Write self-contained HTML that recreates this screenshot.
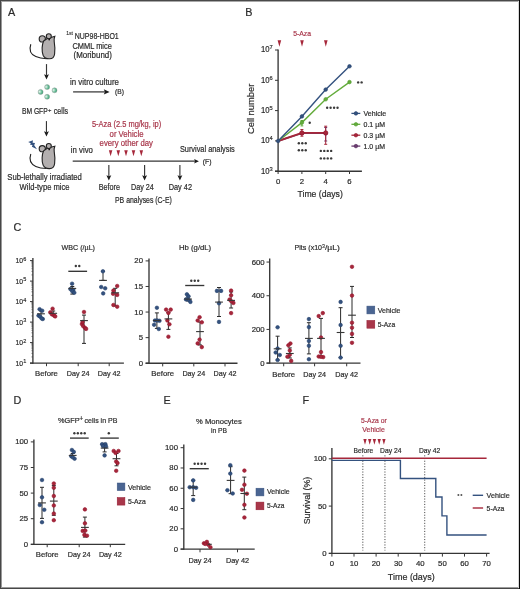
<!DOCTYPE html>
<html><head><meta charset="utf-8"><style>
html,body{margin:0;padding:0;background:#fff;overflow:hidden;width:520px;height:589px;}
svg{display:block;}
#w{width:520px;height:589px;overflow:hidden;will-change:transform;}
text{font-family:"Liberation Sans",sans-serif;-webkit-font-smoothing:antialiased;}
</style></head><body><div id="w">
<svg width="520" height="589" viewBox="0 0 520 589" font-family="Liberation Sans, sans-serif">
<rect x="0" y="0" width="520" height="589" fill="#fff"/>
<g>
<text x="8.0" y="16.2" font-size="10.8" text-anchor="start" fill="#2b2b2b" stroke="#2b2b2b" stroke-width="0.2">A</text>
<g transform="translate(0,0)" stroke="#222" stroke-width="1.12" fill="#b3afaf"><path d="M30.8,44.2 C29.2,49 30,54 35.8,56.6 C39,58 43,58.6 46.5,58.7" fill="none"/><circle cx="42.3" cy="38.9" r="3.1"/><path d="M43.6,41 C42,44.5 41.4,51 43.2,55.5 C44.5,58.3 47.3,58.9 49.6,58.8 C52.3,58.7 54.2,57.2 54.6,54 C55.1,50 54.8,45 54.2,41.5 C54,40 54.2,38 54.8,36.4 L51.5,37.2 C48.5,37.8 45.5,39 43.6,41 Z"/><circle cx="48.8" cy="36.2" r="2.5"/><circle cx="49.2" cy="39.6" r="0.85" fill="#111" stroke="none"/></g>
<text x="66.2" y="34.6" font-size="4.6" text-anchor="start" fill="#2b2b2b" stroke="#2b2b2b" stroke-width="0.1" textLength="6.8" lengthAdjust="spacingAndGlyphs">1st</text>
<text x="96.75" y="38.7" font-size="8.53" text-anchor="middle" fill="#2b2b2b" stroke="#2b2b2b" stroke-width="0.2" textLength="44.0" lengthAdjust="spacingAndGlyphs">NUP98-HBO1</text>
<text x="92.2" y="48.7" font-size="8.53" text-anchor="middle" fill="#2b2b2b" stroke="#2b2b2b" stroke-width="0.2" textLength="39.4" lengthAdjust="spacingAndGlyphs">CMML mice</text>
<text x="92.7" y="57.8" font-size="8.53" text-anchor="middle" fill="#2b2b2b" stroke="#2b2b2b" stroke-width="0.2" textLength="38.4" lengthAdjust="spacingAndGlyphs">(Moribund)</text>
<line x1="46.5" y1="64.1" x2="46.5" y2="75.3" stroke="#363636" stroke-width="1.15"/>
<path d="M44.05,74.20 L46.50,75.30 L48.95,74.20 L46.50,79.40 Z" fill="#1a1a1a"/>
<defs><radialGradient id="cg" cx="0.3" cy="0.45" r="0.75"><stop offset="0" stop-color="#e8f5ef"/><stop offset="0.55" stop-color="#6cc09a"/><stop offset="1" stop-color="#1f9463"/></radialGradient></defs>
<circle cx="40.6" cy="91.9" r="2.5" fill="url(#cg)" stroke="#9a9a9a" stroke-width="0.45"/>
<circle cx="47.1" cy="87.1" r="2.5" fill="url(#cg)" stroke="#9a9a9a" stroke-width="0.45"/>
<circle cx="54.5" cy="90.3" r="2.5" fill="url(#cg)" stroke="#9a9a9a" stroke-width="0.45"/>
<circle cx="47.1" cy="96.8" r="2.5" fill="url(#cg)" stroke="#9a9a9a" stroke-width="0.45"/>
<text x="94.5" y="84.75" font-size="8.53" text-anchor="middle" fill="#2b2b2b" stroke="#2b2b2b" stroke-width="0.2" textLength="49" lengthAdjust="spacingAndGlyphs">in vitro culture</text>
<line x1="73.1" y1="91.9" x2="104.89999999999999" y2="91.9" stroke="#363636" stroke-width="1.25"/>
<path d="M103.80,89.30 L104.90,91.90 L103.80,94.50 L109.60,91.90 Z" fill="#1a1a1a"/>
<text x="119.45" y="94.4" font-size="7.6" text-anchor="middle" fill="#2b2b2b" stroke="#2b2b2b" stroke-width="0.2" textLength="8.9" lengthAdjust="spacingAndGlyphs">(B)</text>
<text x="34.83" y="114.3" font-size="8.53" text-anchor="middle" fill="#2b2b2b" stroke="#2b2b2b" stroke-width="0.2" textLength="25.85" lengthAdjust="spacingAndGlyphs">BM GFP</text>
<text x="47.9" y="111.9" font-size="5.9" text-anchor="start" fill="#2b2b2b" stroke="#2b2b2b" stroke-width="0.15">+</text>
<text x="60.92" y="114.3" font-size="8.53" text-anchor="middle" fill="#2b2b2b" stroke="#2b2b2b" stroke-width="0.2" textLength="14.35" lengthAdjust="spacingAndGlyphs">cells</text>
<line x1="46.45" y1="121.1" x2="46.45" y2="132.3" stroke="#363636" stroke-width="1.15"/>
<path d="M44.00,131.20 L46.45,132.30 L48.90,131.20 L46.45,136.40 Z" fill="#1a1a1a"/>
<path d="M28.2,141.9 L33.0,140.3 L32.6,142.7 L35.0,143.0 L34.2,145.2 L37.0,149.2 L31.9,146.8 L32.5,145.1 L30.0,144.8 L30.8,143.3 Z" fill="#34527f"/>
<g transform="translate(0,109.8)" stroke="#222" stroke-width="1.12" fill="#b3afaf"><path d="M30.8,44.2 C29.2,49 30,54 35.8,56.6 C39,58 43,58.6 46.5,58.7" fill="none"/><circle cx="42.3" cy="38.9" r="3.1"/><path d="M43.6,41 C42,44.5 41.4,51 43.2,55.5 C44.5,58.3 47.3,58.9 49.6,58.8 C52.3,58.7 54.2,57.2 54.6,54 C55.1,50 54.8,45 54.2,41.5 C54,40 54.2,38 54.8,36.4 L51.5,37.2 C48.5,37.8 45.5,39 43.6,41 Z"/><circle cx="48.8" cy="36.2" r="2.5"/><circle cx="49.2" cy="39.6" r="0.85" fill="#111" stroke="none"/></g>
<text x="44.6" y="180" font-size="8.53" text-anchor="middle" fill="#2b2b2b" stroke="#2b2b2b" stroke-width="0.2" textLength="74.6" lengthAdjust="spacingAndGlyphs">Sub-lethally irradiated</text>
<text x="44.6" y="189.5" font-size="8.53" text-anchor="middle" fill="#2b2b2b" stroke="#2b2b2b" stroke-width="0.2" textLength="50.0" lengthAdjust="spacingAndGlyphs">Wild-type mice</text>
<text x="81.85" y="153.1" font-size="8.53" text-anchor="middle" fill="#2b2b2b" stroke="#2b2b2b" stroke-width="0.2" textLength="22.1" lengthAdjust="spacingAndGlyphs">in vivo</text>
<text x="126.55" y="126.9" font-size="8.53" text-anchor="middle" fill="#a8364a" stroke="#a8364a" stroke-width="0.2" textLength="69.3" lengthAdjust="spacingAndGlyphs">5-Aza (2.5 mg/kg, ip)</text>
<text x="126.55" y="136.7" font-size="8.53" text-anchor="middle" fill="#a8364a" stroke="#a8364a" stroke-width="0.2" textLength="33.9" lengthAdjust="spacingAndGlyphs">or Vehicle</text>
<text x="126.3" y="146.3" font-size="8.53" text-anchor="middle" fill="#a8364a" stroke="#a8364a" stroke-width="0.2" textLength="53.4" lengthAdjust="spacingAndGlyphs">every other day</text>
<path d="M108.85,150.2 L112.35,150.2 L110.6,156.29999999999998 Z" fill="#a6273a"/>
<path d="M116.55,150.2 L120.05,150.2 L118.3,156.29999999999998 Z" fill="#a6273a"/>
<path d="M124.25,150.2 L127.75,150.2 L126,156.29999999999998 Z" fill="#a6273a"/>
<path d="M131.75,150.2 L135.25,150.2 L133.5,156.29999999999998 Z" fill="#a6273a"/>
<path d="M139.55,150.2 L143.05,150.2 L141.3,156.29999999999998 Z" fill="#a6273a"/>
<line x1="72.7" y1="161.2" x2="195.1" y2="161.2" stroke="#363636" stroke-width="1.3"/>
<path d="M194.10,158.90 L195.10,161.20 L194.10,163.50 L198.90,161.20 Z" fill="#1a1a1a"/>
<text x="207.35" y="151.8" font-size="8.53" text-anchor="middle" fill="#2b2b2b" stroke="#2b2b2b" stroke-width="0.2" textLength="54.9" lengthAdjust="spacingAndGlyphs">Survival analysis</text>
<text x="207.15" y="163.5" font-size="7.6" text-anchor="middle" fill="#2b2b2b" stroke="#2b2b2b" stroke-width="0.2" textLength="8.7" lengthAdjust="spacingAndGlyphs">(F)</text>
<line x1="108.85" y1="165.0" x2="108.85" y2="176.3" stroke="#363636" stroke-width="1.15"/>
<path d="M106.40,175.20 L108.85,176.30 L111.30,175.20 L108.85,180.40 Z" fill="#1a1a1a"/>
<line x1="144.6" y1="165.0" x2="144.6" y2="176.3" stroke="#363636" stroke-width="1.15"/>
<path d="M142.15,175.20 L144.60,176.30 L147.05,175.20 L144.60,180.40 Z" fill="#1a1a1a"/>
<line x1="179.9" y1="165.0" x2="179.9" y2="176.3" stroke="#363636" stroke-width="1.15"/>
<path d="M177.45,175.20 L179.90,176.30 L182.35,175.20 L179.90,180.40 Z" fill="#1a1a1a"/>
<text x="109.38" y="189.75" font-size="8.53" text-anchor="middle" fill="#2b2b2b" stroke="#2b2b2b" stroke-width="0.2" textLength="21.25" lengthAdjust="spacingAndGlyphs">Before</text>
<text x="142.38" y="189.75" font-size="8.53" text-anchor="middle" fill="#2b2b2b" stroke="#2b2b2b" stroke-width="0.2" textLength="22.75" lengthAdjust="spacingAndGlyphs">Day 24</text>
<text x="180.35" y="189.75" font-size="8.53" text-anchor="middle" fill="#2b2b2b" stroke="#2b2b2b" stroke-width="0.2" textLength="23.3" lengthAdjust="spacingAndGlyphs">Day 42</text>
<text x="143.4" y="203.1" font-size="8.53" text-anchor="middle" fill="#2b2b2b" stroke="#2b2b2b" stroke-width="0.2" textLength="56.8" lengthAdjust="spacingAndGlyphs">PB analyses (C-E)</text>
<text x="245.2" y="16.25" font-size="10.8" text-anchor="start" fill="#2b2b2b" stroke="#2b2b2b" stroke-width="0.2">B</text>
<text x="302.1" y="35.5" font-size="7.56" text-anchor="middle" fill="#a8364a" stroke="#a8364a" stroke-width="0.2" textLength="17.8" lengthAdjust="spacingAndGlyphs">5-Aza</text>
<path d="M277.59999999999997,40.3 L281.2,40.3 L279.4,46.699999999999996 Z" fill="#a6273a"/>
<path d="M300.2,40.3 L303.8,40.3 L302,46.699999999999996 Z" fill="#a6273a"/>
<path d="M324.0,40.3 L327.6,40.3 L325.8,46.699999999999996 Z" fill="#a6273a"/>
<line x1="278.1" y1="49.4" x2="278.1" y2="171.6" stroke="#363636" stroke-width="1.35"/>
<line x1="275" y1="171.2" x2="361.9" y2="171.2" stroke="#363636" stroke-width="1.35"/>
<line x1="275" y1="171.2" x2="278.1" y2="171.2" stroke="#363636" stroke-width="1.0"/>
<text x="261" y="173.5" font-size="8.21" text-anchor="start" fill="#2b2b2b" stroke="#2b2b2b" stroke-width="0.2" textLength="8.6" lengthAdjust="spacingAndGlyphs">10</text>
<text x="269.6" y="170.6" font-size="5.8" text-anchor="start" fill="#2b2b2b" stroke="#2b2b2b" stroke-width="0.15" textLength="3.2" lengthAdjust="spacingAndGlyphs">3</text>
<line x1="275" y1="140.89999999999998" x2="278.1" y2="140.89999999999998" stroke="#363636" stroke-width="1.0"/>
<text x="261" y="143.2" font-size="8.21" text-anchor="start" fill="#2b2b2b" stroke="#2b2b2b" stroke-width="0.2" textLength="8.6" lengthAdjust="spacingAndGlyphs">10</text>
<text x="269.6" y="140.29999999999998" font-size="5.8" text-anchor="start" fill="#2b2b2b" stroke="#2b2b2b" stroke-width="0.15" textLength="3.2" lengthAdjust="spacingAndGlyphs">4</text>
<line x1="275" y1="110.6" x2="278.1" y2="110.6" stroke="#363636" stroke-width="1.0"/>
<text x="261" y="112.89999999999999" font-size="8.21" text-anchor="start" fill="#2b2b2b" stroke="#2b2b2b" stroke-width="0.2" textLength="8.6" lengthAdjust="spacingAndGlyphs">10</text>
<text x="269.6" y="110.0" font-size="5.8" text-anchor="start" fill="#2b2b2b" stroke="#2b2b2b" stroke-width="0.15" textLength="3.2" lengthAdjust="spacingAndGlyphs">5</text>
<line x1="275" y1="80.29999999999998" x2="278.1" y2="80.29999999999998" stroke="#363636" stroke-width="1.0"/>
<text x="261" y="82.59999999999998" font-size="8.21" text-anchor="start" fill="#2b2b2b" stroke="#2b2b2b" stroke-width="0.2" textLength="8.6" lengthAdjust="spacingAndGlyphs">10</text>
<text x="269.6" y="79.69999999999999" font-size="5.8" text-anchor="start" fill="#2b2b2b" stroke="#2b2b2b" stroke-width="0.15" textLength="3.2" lengthAdjust="spacingAndGlyphs">6</text>
<line x1="275" y1="49.999999999999986" x2="278.1" y2="49.999999999999986" stroke="#363636" stroke-width="1.0"/>
<text x="261" y="52.29999999999998" font-size="8.21" text-anchor="start" fill="#2b2b2b" stroke="#2b2b2b" stroke-width="0.2" textLength="8.6" lengthAdjust="spacingAndGlyphs">10</text>
<text x="269.6" y="49.399999999999984" font-size="5.8" text-anchor="start" fill="#2b2b2b" stroke="#2b2b2b" stroke-width="0.15" textLength="3.2" lengthAdjust="spacingAndGlyphs">7</text>
<line x1="278.1" y1="171" x2="278.1" y2="174" stroke="#363636" stroke-width="1.0"/>
<text x="278.1" y="184.3" font-size="7.78" text-anchor="middle" fill="#2b2b2b" stroke="#2b2b2b" stroke-width="0.2">0</text>
<line x1="301.90000000000003" y1="171" x2="301.90000000000003" y2="174" stroke="#363636" stroke-width="1.0"/>
<text x="301.90000000000003" y="184.3" font-size="7.78" text-anchor="middle" fill="#2b2b2b" stroke="#2b2b2b" stroke-width="0.2">2</text>
<line x1="325.70000000000005" y1="171" x2="325.70000000000005" y2="174" stroke="#363636" stroke-width="1.0"/>
<text x="325.70000000000005" y="184.3" font-size="7.78" text-anchor="middle" fill="#2b2b2b" stroke="#2b2b2b" stroke-width="0.2">4</text>
<line x1="349.5" y1="171" x2="349.5" y2="174" stroke="#363636" stroke-width="1.0"/>
<text x="349.5" y="184.3" font-size="7.78" text-anchor="middle" fill="#2b2b2b" stroke="#2b2b2b" stroke-width="0.2">6</text>
<text x="320.15" y="196.8" font-size="9.29" text-anchor="middle" fill="#2b2b2b" stroke="#2b2b2b" stroke-width="0.2" textLength="45.3" lengthAdjust="spacingAndGlyphs">Time (days)</text>
<text transform="translate(254.2,108.9) rotate(-90)" x="0" y="0" font-size="9.5" text-anchor="middle" fill="#2b2b2b" stroke="#2b2b2b" stroke-width="0.2" textLength="50.3" lengthAdjust="spacingAndGlyphs">Cell number</text>
<path d="M278.1,141 L301.90000000000003,133.3 L325.70000000000005,133.3" fill="none" stroke="#6b3d70" stroke-width="1.4"/>
<circle cx="301.90000000000003" cy="133.3" r="1.80" fill="#6b3d70" stroke="#552a5c" stroke-width="0.6"/>
<circle cx="325.70000000000005" cy="133.3" r="1.80" fill="#6b3d70" stroke="#552a5c" stroke-width="0.6"/>
<line x1="325.70000000000005" y1="127.5" x2="325.70000000000005" y2="141" stroke="#6b3d70" stroke-width="1.0"/>
<line x1="324.20000000000005" y1="127.5" x2="327.20000000000005" y2="127.5" stroke="#6b3d70" stroke-width="1.0"/>
<line x1="324.20000000000005" y1="141" x2="327.20000000000005" y2="141" stroke="#6b3d70" stroke-width="1.0"/>
<line x1="301.90000000000003" y1="129.5" x2="301.90000000000003" y2="136.2" stroke="#a6273a" stroke-width="1.0"/>
<line x1="300.40000000000003" y1="129.5" x2="303.40000000000003" y2="129.5" stroke="#a6273a" stroke-width="1.0"/>
<line x1="300.40000000000003" y1="136.2" x2="303.40000000000003" y2="136.2" stroke="#a6273a" stroke-width="1.0"/>
<line x1="325.70000000000005" y1="126.2" x2="325.70000000000005" y2="144.3" stroke="#a6273a" stroke-width="1.0"/>
<line x1="324.20000000000005" y1="126.2" x2="327.20000000000005" y2="126.2" stroke="#a6273a" stroke-width="1.0"/>
<line x1="324.20000000000005" y1="144.3" x2="327.20000000000005" y2="144.3" stroke="#a6273a" stroke-width="1.0"/>
<line x1="301.90000000000003" y1="120.5" x2="301.90000000000003" y2="125.9" stroke="#64ac3c" stroke-width="1.0"/>
<line x1="300.50000000000006" y1="120.5" x2="303.3" y2="120.5" stroke="#64ac3c" stroke-width="1.0"/>
<line x1="300.50000000000006" y1="125.9" x2="303.3" y2="125.9" stroke="#64ac3c" stroke-width="1.0"/>
<path d="M278.1,141 L301.90000000000003,132.9 L325.70000000000005,132.9" fill="none" stroke="#a6273a" stroke-width="1.9"/>
<circle cx="301.90000000000003" cy="132.9" r="2.20" fill="#a6273a" stroke="#94112a" stroke-width="0.6"/>
<circle cx="325.70000000000005" cy="132.9" r="2.20" fill="#a6273a" stroke="#94112a" stroke-width="0.6"/>
<path d="M278.1,141 L301.90000000000003,122.6 L325.70000000000005,99.3 L349.5,82.1" fill="none" stroke="#64ac3c" stroke-width="1.4"/>
<circle cx="301.90000000000003" cy="122.6" r="1.80" fill="#64ac3c" stroke="#4f9a2c" stroke-width="0.6"/>
<circle cx="325.70000000000005" cy="99.3" r="1.80" fill="#64ac3c" stroke="#4f9a2c" stroke-width="0.6"/>
<circle cx="349.5" cy="82.1" r="1.80" fill="#64ac3c" stroke="#4f9a2c" stroke-width="0.6"/>
<path d="M278.1,141 L301.90000000000003,116.4 L325.70000000000005,89.6 L349.5,66.3" fill="none" stroke="#34527f" stroke-width="1.4"/>
<circle cx="278.1" cy="141" r="1.80" fill="#34527f" stroke="#24406c" stroke-width="0.6"/>
<circle cx="301.90000000000003" cy="116.4" r="1.80" fill="#34527f" stroke="#24406c" stroke-width="0.6"/>
<circle cx="325.70000000000005" cy="89.6" r="1.80" fill="#34527f" stroke="#24406c" stroke-width="0.6"/>
<circle cx="349.5" cy="66.3" r="1.80" fill="#34527f" stroke="#24406c" stroke-width="0.6"/>
<circle cx="309.70" cy="122.8" r="1.2" fill="#3a3a3a"/>
<circle cx="327.18" cy="107.7" r="1.2" fill="#3a3a3a"/>
<circle cx="330.62" cy="107.7" r="1.2" fill="#3a3a3a"/>
<circle cx="334.08" cy="107.7" r="1.2" fill="#3a3a3a"/>
<circle cx="337.53" cy="107.7" r="1.2" fill="#3a3a3a"/>
<circle cx="298.85" cy="143.2" r="1.2" fill="#3a3a3a"/>
<circle cx="302.30" cy="143.2" r="1.2" fill="#3a3a3a"/>
<circle cx="305.75" cy="143.2" r="1.2" fill="#3a3a3a"/>
<circle cx="298.85" cy="150.3" r="1.2" fill="#3a3a3a"/>
<circle cx="302.30" cy="150.3" r="1.2" fill="#3a3a3a"/>
<circle cx="305.75" cy="150.3" r="1.2" fill="#3a3a3a"/>
<circle cx="320.82" cy="150.9" r="1.2" fill="#3a3a3a"/>
<circle cx="324.27" cy="150.9" r="1.2" fill="#3a3a3a"/>
<circle cx="327.73" cy="150.9" r="1.2" fill="#3a3a3a"/>
<circle cx="331.18" cy="150.9" r="1.2" fill="#3a3a3a"/>
<circle cx="320.82" cy="158.4" r="1.2" fill="#3a3a3a"/>
<circle cx="324.27" cy="158.4" r="1.2" fill="#3a3a3a"/>
<circle cx="327.73" cy="158.4" r="1.2" fill="#3a3a3a"/>
<circle cx="331.18" cy="158.4" r="1.2" fill="#3a3a3a"/>
<circle cx="358.17" cy="82.4" r="1.2" fill="#3a3a3a"/>
<circle cx="361.62" cy="82.4" r="1.2" fill="#3a3a3a"/>
<line x1="351.4" y1="113.4" x2="360.3" y2="113.4" stroke="#34527f" stroke-width="1.3"/>
<circle cx="355.9" cy="113.4" r="1.80" fill="#34527f" stroke="#24406c" stroke-width="0.6"/>
<text x="374.9" y="116.0" font-size="7.78" text-anchor="middle" fill="#2b2b2b" stroke="#2b2b2b" stroke-width="0.2" textLength="22.8" lengthAdjust="spacingAndGlyphs">Vehicle</text>
<line x1="351.4" y1="124.30000000000001" x2="360.3" y2="124.30000000000001" stroke="#64ac3c" stroke-width="1.3"/>
<circle cx="355.9" cy="124.30000000000001" r="1.80" fill="#64ac3c" stroke="#4f9a2c" stroke-width="0.6"/>
<text x="374.25" y="126.9" font-size="7.78" text-anchor="middle" fill="#2b2b2b" stroke="#2b2b2b" stroke-width="0.2" textLength="21.5" lengthAdjust="spacingAndGlyphs">0.1 µM</text>
<line x1="351.4" y1="135.20000000000002" x2="360.3" y2="135.20000000000002" stroke="#a6273a" stroke-width="1.3"/>
<circle cx="355.9" cy="135.20000000000002" r="1.80" fill="#a6273a" stroke="#94112a" stroke-width="0.6"/>
<text x="374.25" y="137.8" font-size="7.78" text-anchor="middle" fill="#2b2b2b" stroke="#2b2b2b" stroke-width="0.2" textLength="21.5" lengthAdjust="spacingAndGlyphs">0.3 µM</text>
<line x1="351.4" y1="146.10000000000002" x2="360.3" y2="146.10000000000002" stroke="#6b3d70" stroke-width="1.3"/>
<circle cx="355.9" cy="146.10000000000002" r="1.80" fill="#6b3d70" stroke="#552a5c" stroke-width="0.6"/>
<text x="374.25" y="148.70000000000002" font-size="7.78" text-anchor="middle" fill="#2b2b2b" stroke="#2b2b2b" stroke-width="0.2" textLength="21.5" lengthAdjust="spacingAndGlyphs">1.0 µM</text>
<text x="13.6" y="230.9" font-size="10.8" text-anchor="start" fill="#2b2b2b" stroke="#2b2b2b" stroke-width="0.2">C</text>
<line x1="32.9" y1="258.1" x2="32.9" y2="363.7" stroke="#363636" stroke-width="1.35"/>
<line x1="30" y1="363.1" x2="123.9" y2="363.1" stroke="#363636" stroke-width="1.35"/>
<line x1="30" y1="363.1" x2="32.9" y2="363.1" stroke="#363636" stroke-width="1.0"/>
<text x="15.6" y="365.8" font-size="7.78" text-anchor="start" fill="#2b2b2b" stroke="#2b2b2b" stroke-width="0.2" textLength="7.5" lengthAdjust="spacingAndGlyphs">10</text>
<text x="23.2" y="363.40000000000003" font-size="5.6" text-anchor="start" fill="#2b2b2b" stroke="#2b2b2b" stroke-width="0.15" textLength="3.1" lengthAdjust="spacingAndGlyphs">1</text>
<line x1="31.4" y1="356.9288850888884" x2="32.9" y2="356.9288850888884" stroke="#363636" stroke-width="0.6"/>
<line x1="31.4" y1="353.3190142782469" x2="32.9" y2="353.3190142782469" stroke="#363636" stroke-width="0.6"/>
<line x1="31.4" y1="350.7577701777768" x2="32.9" y2="350.7577701777768" stroke="#363636" stroke-width="0.6"/>
<line x1="31.4" y1="348.7711149111116" x2="32.9" y2="348.7711149111116" stroke="#363636" stroke-width="0.6"/>
<line x1="31.4" y1="347.1478993671353" x2="32.9" y2="347.1478993671353" stroke="#363636" stroke-width="0.6"/>
<line x1="31.4" y1="345.77549017970773" x2="32.9" y2="345.77549017970773" stroke="#363636" stroke-width="0.6"/>
<line x1="31.4" y1="344.58665526666516" x2="32.9" y2="344.58665526666516" stroke="#363636" stroke-width="0.6"/>
<line x1="31.4" y1="343.5380285564939" x2="32.9" y2="343.5380285564939" stroke="#363636" stroke-width="0.6"/>
<line x1="30" y1="342.6" x2="32.9" y2="342.6" stroke="#363636" stroke-width="1.0"/>
<text x="15.6" y="345.3" font-size="7.78" text-anchor="start" fill="#2b2b2b" stroke="#2b2b2b" stroke-width="0.2" textLength="7.5" lengthAdjust="spacingAndGlyphs">10</text>
<text x="23.2" y="342.90000000000003" font-size="5.6" text-anchor="start" fill="#2b2b2b" stroke="#2b2b2b" stroke-width="0.15" textLength="3.1" lengthAdjust="spacingAndGlyphs">2</text>
<line x1="31.4" y1="336.4288850888884" x2="32.9" y2="336.4288850888884" stroke="#363636" stroke-width="0.6"/>
<line x1="31.4" y1="332.8190142782469" x2="32.9" y2="332.8190142782469" stroke="#363636" stroke-width="0.6"/>
<line x1="31.4" y1="330.2577701777768" x2="32.9" y2="330.2577701777768" stroke="#363636" stroke-width="0.6"/>
<line x1="31.4" y1="328.2711149111116" x2="32.9" y2="328.2711149111116" stroke="#363636" stroke-width="0.6"/>
<line x1="31.4" y1="326.6478993671353" x2="32.9" y2="326.6478993671353" stroke="#363636" stroke-width="0.6"/>
<line x1="31.4" y1="325.27549017970773" x2="32.9" y2="325.27549017970773" stroke="#363636" stroke-width="0.6"/>
<line x1="31.4" y1="324.08665526666516" x2="32.9" y2="324.08665526666516" stroke="#363636" stroke-width="0.6"/>
<line x1="31.4" y1="323.0380285564939" x2="32.9" y2="323.0380285564939" stroke="#363636" stroke-width="0.6"/>
<line x1="30" y1="322.1" x2="32.9" y2="322.1" stroke="#363636" stroke-width="1.0"/>
<text x="15.6" y="324.8" font-size="7.78" text-anchor="start" fill="#2b2b2b" stroke="#2b2b2b" stroke-width="0.2" textLength="7.5" lengthAdjust="spacingAndGlyphs">10</text>
<text x="23.2" y="322.40000000000003" font-size="5.6" text-anchor="start" fill="#2b2b2b" stroke="#2b2b2b" stroke-width="0.15" textLength="3.1" lengthAdjust="spacingAndGlyphs">3</text>
<line x1="31.4" y1="315.9288850888884" x2="32.9" y2="315.9288850888884" stroke="#363636" stroke-width="0.6"/>
<line x1="31.4" y1="312.3190142782469" x2="32.9" y2="312.3190142782469" stroke="#363636" stroke-width="0.6"/>
<line x1="31.4" y1="309.7577701777768" x2="32.9" y2="309.7577701777768" stroke="#363636" stroke-width="0.6"/>
<line x1="31.4" y1="307.7711149111116" x2="32.9" y2="307.7711149111116" stroke="#363636" stroke-width="0.6"/>
<line x1="31.4" y1="306.1478993671353" x2="32.9" y2="306.1478993671353" stroke="#363636" stroke-width="0.6"/>
<line x1="31.4" y1="304.77549017970773" x2="32.9" y2="304.77549017970773" stroke="#363636" stroke-width="0.6"/>
<line x1="31.4" y1="303.58665526666516" x2="32.9" y2="303.58665526666516" stroke="#363636" stroke-width="0.6"/>
<line x1="31.4" y1="302.5380285564939" x2="32.9" y2="302.5380285564939" stroke="#363636" stroke-width="0.6"/>
<line x1="30" y1="301.6" x2="32.9" y2="301.6" stroke="#363636" stroke-width="1.0"/>
<text x="15.6" y="304.3" font-size="7.78" text-anchor="start" fill="#2b2b2b" stroke="#2b2b2b" stroke-width="0.2" textLength="7.5" lengthAdjust="spacingAndGlyphs">10</text>
<text x="23.2" y="301.90000000000003" font-size="5.6" text-anchor="start" fill="#2b2b2b" stroke="#2b2b2b" stroke-width="0.15" textLength="3.1" lengthAdjust="spacingAndGlyphs">4</text>
<line x1="31.4" y1="295.4288850888884" x2="32.9" y2="295.4288850888884" stroke="#363636" stroke-width="0.6"/>
<line x1="31.4" y1="291.8190142782469" x2="32.9" y2="291.8190142782469" stroke="#363636" stroke-width="0.6"/>
<line x1="31.4" y1="289.2577701777768" x2="32.9" y2="289.2577701777768" stroke="#363636" stroke-width="0.6"/>
<line x1="31.4" y1="287.2711149111116" x2="32.9" y2="287.2711149111116" stroke="#363636" stroke-width="0.6"/>
<line x1="31.4" y1="285.6478993671353" x2="32.9" y2="285.6478993671353" stroke="#363636" stroke-width="0.6"/>
<line x1="31.4" y1="284.27549017970773" x2="32.9" y2="284.27549017970773" stroke="#363636" stroke-width="0.6"/>
<line x1="31.4" y1="283.08665526666516" x2="32.9" y2="283.08665526666516" stroke="#363636" stroke-width="0.6"/>
<line x1="31.4" y1="282.0380285564939" x2="32.9" y2="282.0380285564939" stroke="#363636" stroke-width="0.6"/>
<line x1="30" y1="281.1" x2="32.9" y2="281.1" stroke="#363636" stroke-width="1.0"/>
<text x="15.6" y="283.8" font-size="7.78" text-anchor="start" fill="#2b2b2b" stroke="#2b2b2b" stroke-width="0.2" textLength="7.5" lengthAdjust="spacingAndGlyphs">10</text>
<text x="23.2" y="281.40000000000003" font-size="5.6" text-anchor="start" fill="#2b2b2b" stroke="#2b2b2b" stroke-width="0.15" textLength="3.1" lengthAdjust="spacingAndGlyphs">5</text>
<line x1="31.4" y1="274.9288850888884" x2="32.9" y2="274.9288850888884" stroke="#363636" stroke-width="0.6"/>
<line x1="31.4" y1="271.3190142782469" x2="32.9" y2="271.3190142782469" stroke="#363636" stroke-width="0.6"/>
<line x1="31.4" y1="268.7577701777768" x2="32.9" y2="268.7577701777768" stroke="#363636" stroke-width="0.6"/>
<line x1="31.4" y1="266.7711149111116" x2="32.9" y2="266.7711149111116" stroke="#363636" stroke-width="0.6"/>
<line x1="31.4" y1="265.1478993671353" x2="32.9" y2="265.1478993671353" stroke="#363636" stroke-width="0.6"/>
<line x1="31.4" y1="263.77549017970773" x2="32.9" y2="263.77549017970773" stroke="#363636" stroke-width="0.6"/>
<line x1="31.4" y1="262.58665526666516" x2="32.9" y2="262.58665526666516" stroke="#363636" stroke-width="0.6"/>
<line x1="31.4" y1="261.5380285564939" x2="32.9" y2="261.5380285564939" stroke="#363636" stroke-width="0.6"/>
<line x1="30" y1="260.6" x2="32.9" y2="260.6" stroke="#363636" stroke-width="1.0"/>
<text x="15.6" y="263.3" font-size="7.78" text-anchor="start" fill="#2b2b2b" stroke="#2b2b2b" stroke-width="0.2" textLength="7.5" lengthAdjust="spacingAndGlyphs">10</text>
<text x="23.2" y="260.90000000000003" font-size="5.6" text-anchor="start" fill="#2b2b2b" stroke="#2b2b2b" stroke-width="0.15" textLength="3.1" lengthAdjust="spacingAndGlyphs">6</text>
<line x1="46.5" y1="363" x2="46.5" y2="366.2" stroke="#363636" stroke-width="1.0"/>
<text x="46.5" y="376.3" font-size="7.88" text-anchor="middle" fill="#2b2b2b" stroke="#2b2b2b" stroke-width="0.2" textLength="22.8" lengthAdjust="spacingAndGlyphs">Before</text>
<line x1="78.2" y1="363" x2="78.2" y2="366.2" stroke="#363636" stroke-width="1.0"/>
<text x="78.2" y="376.3" font-size="7.88" text-anchor="middle" fill="#2b2b2b" stroke="#2b2b2b" stroke-width="0.2" textLength="22.8" lengthAdjust="spacingAndGlyphs">Day 24</text>
<line x1="109.2" y1="363" x2="109.2" y2="366.2" stroke="#363636" stroke-width="1.0"/>
<text x="109.2" y="376.3" font-size="7.88" text-anchor="middle" fill="#2b2b2b" stroke="#2b2b2b" stroke-width="0.2" textLength="22.8" lengthAdjust="spacingAndGlyphs">Day 42</text>
<text x="78.25" y="249.6" font-size="7.78" text-anchor="middle" fill="#2b2b2b" stroke="#2b2b2b" stroke-width="0.2" textLength="33.5" lengthAdjust="spacingAndGlyphs">WBC (/µL)</text>
<line x1="149.0" y1="258.4" x2="149.0" y2="363.8" stroke="#363636" stroke-width="1.35"/>
<line x1="145.6" y1="363.2" x2="237.5" y2="363.2" stroke="#363636" stroke-width="1.35"/>
<line x1="145.6" y1="363.2" x2="149.0" y2="363.2" stroke="#363636" stroke-width="1.0"/>
<text x="143" y="365.7" font-size="7.78" text-anchor="end" fill="#2b2b2b" stroke="#2b2b2b" stroke-width="0.2">0</text>
<line x1="145.6" y1="337.625" x2="149.0" y2="337.625" stroke="#363636" stroke-width="1.0"/>
<text x="143" y="340.125" font-size="7.78" text-anchor="end" fill="#2b2b2b" stroke="#2b2b2b" stroke-width="0.2">5</text>
<line x1="145.6" y1="312.04999999999995" x2="149.0" y2="312.04999999999995" stroke="#363636" stroke-width="1.0"/>
<text x="143" y="314.54999999999995" font-size="7.78" text-anchor="end" fill="#2b2b2b" stroke="#2b2b2b" stroke-width="0.2">10</text>
<line x1="145.6" y1="286.47499999999997" x2="149.0" y2="286.47499999999997" stroke="#363636" stroke-width="1.0"/>
<text x="143" y="288.97499999999997" font-size="7.78" text-anchor="end" fill="#2b2b2b" stroke="#2b2b2b" stroke-width="0.2">15</text>
<line x1="145.6" y1="260.9" x2="149.0" y2="260.9" stroke="#363636" stroke-width="1.0"/>
<text x="143" y="263.4" font-size="7.78" text-anchor="end" fill="#2b2b2b" stroke="#2b2b2b" stroke-width="0.2">20</text>
<line x1="162.7" y1="363.2" x2="162.7" y2="366.4" stroke="#363636" stroke-width="1.0"/>
<text x="162.7" y="376.3" font-size="7.88" text-anchor="middle" fill="#2b2b2b" stroke="#2b2b2b" stroke-width="0.2" textLength="22.8" lengthAdjust="spacingAndGlyphs">Before</text>
<line x1="193.8" y1="363.2" x2="193.8" y2="366.4" stroke="#363636" stroke-width="1.0"/>
<text x="193.8" y="376.3" font-size="7.88" text-anchor="middle" fill="#2b2b2b" stroke="#2b2b2b" stroke-width="0.2" textLength="22.8" lengthAdjust="spacingAndGlyphs">Day 24</text>
<line x1="225" y1="363.2" x2="225" y2="366.4" stroke="#363636" stroke-width="1.0"/>
<text x="225.0" y="376.3" font-size="7.88" text-anchor="middle" fill="#2b2b2b" stroke="#2b2b2b" stroke-width="0.2" textLength="22.8" lengthAdjust="spacingAndGlyphs">Day 42</text>
<text x="195.1" y="250.2" font-size="7.78" text-anchor="middle" fill="#2b2b2b" stroke="#2b2b2b" stroke-width="0.2" textLength="32.2" lengthAdjust="spacingAndGlyphs">Hb (g/dL)</text>
<line x1="269.7" y1="258.5" x2="269.7" y2="363.8" stroke="#363636" stroke-width="1.35"/>
<line x1="266.5" y1="363.1" x2="360.5" y2="363.1" stroke="#363636" stroke-width="1.35"/>
<line x1="266.5" y1="363.1" x2="269.7" y2="363.1" stroke="#363636" stroke-width="1.0"/>
<text x="264.6" y="365.6" font-size="7.78" text-anchor="end" fill="#2b2b2b" stroke="#2b2b2b" stroke-width="0.2">0</text>
<line x1="266.5" y1="329.42" x2="269.7" y2="329.42" stroke="#363636" stroke-width="1.0"/>
<text x="264.6" y="331.92" font-size="7.78" text-anchor="end" fill="#2b2b2b" stroke="#2b2b2b" stroke-width="0.2">200</text>
<line x1="266.5" y1="295.74" x2="269.7" y2="295.74" stroke="#363636" stroke-width="1.0"/>
<text x="264.6" y="298.24" font-size="7.78" text-anchor="end" fill="#2b2b2b" stroke="#2b2b2b" stroke-width="0.2">400</text>
<line x1="266.5" y1="262.06000000000006" x2="269.7" y2="262.06000000000006" stroke="#363636" stroke-width="1.0"/>
<text x="264.6" y="264.56000000000006" font-size="7.78" text-anchor="end" fill="#2b2b2b" stroke="#2b2b2b" stroke-width="0.2">600</text>
<line x1="283.7" y1="363.1" x2="283.7" y2="366.3" stroke="#363636" stroke-width="1.0"/>
<text x="283.7" y="376.8" font-size="7.88" text-anchor="middle" fill="#2b2b2b" stroke="#2b2b2b" stroke-width="0.2" textLength="22.8" lengthAdjust="spacingAndGlyphs">Before</text>
<line x1="314.6" y1="363.1" x2="314.6" y2="366.3" stroke="#363636" stroke-width="1.0"/>
<text x="314.6" y="376.8" font-size="7.88" text-anchor="middle" fill="#2b2b2b" stroke="#2b2b2b" stroke-width="0.2" textLength="22.8" lengthAdjust="spacingAndGlyphs">Day 24</text>
<line x1="346.7" y1="363.1" x2="346.7" y2="366.3" stroke="#363636" stroke-width="1.0"/>
<text x="346.7" y="376.8" font-size="7.88" text-anchor="middle" fill="#2b2b2b" stroke="#2b2b2b" stroke-width="0.2" textLength="22.8" lengthAdjust="spacingAndGlyphs">Day 42</text>
<text x="308.3" y="249.9" font-size="7.78" text-anchor="middle" fill="#2b2b2b" stroke="#2b2b2b" stroke-width="0.2" textLength="27.4" lengthAdjust="spacingAndGlyphs">Plts (x10</text>
<text x="322.0" y="247.5" font-size="5.2" text-anchor="start" fill="#2b2b2b" stroke="#2b2b2b" stroke-width="0.12">3</text>
<text x="332.4" y="249.9" font-size="7.78" text-anchor="middle" fill="#2b2b2b" stroke="#2b2b2b" stroke-width="0.2" textLength="14.8" lengthAdjust="spacingAndGlyphs">/µL)</text>
<rect x="366.9" y="306.1" width="7.9" height="7.8" fill="#4a6592" stroke="#3a5582" stroke-width="0.5"/>
<rect x="366.9" y="320.4" width="7.9" height="7.8" fill="#a8374a" stroke="#961c32" stroke-width="0.5"/>
<text x="389.05" y="313.0" font-size="7.78" text-anchor="middle" fill="#2b2b2b" stroke="#2b2b2b" stroke-width="0.2" textLength="22.7" lengthAdjust="spacingAndGlyphs">Vehicle</text>
<text x="386.45" y="327.2" font-size="7.78" text-anchor="middle" fill="#2b2b2b" stroke="#2b2b2b" stroke-width="0.2" textLength="17.5" lengthAdjust="spacingAndGlyphs">5-Aza</text>
<line x1="41" y1="311" x2="41" y2="317.5" stroke="#2a2a2a" stroke-width="1.0"/>
<line x1="39.0" y1="311" x2="43.0" y2="311" stroke="#2a2a2a" stroke-width="1.0"/>
<line x1="39.0" y1="317.5" x2="43.0" y2="317.5" stroke="#2a2a2a" stroke-width="1.0"/>
<circle cx="39.6" cy="309.2" r="1.80" fill="#34527f" stroke="#24406c" stroke-width="0.6"/>
<circle cx="42.2" cy="310.7" r="1.80" fill="#34527f" stroke="#24406c" stroke-width="0.6"/>
<circle cx="38.5" cy="315.6" r="1.80" fill="#34527f" stroke="#24406c" stroke-width="0.6"/>
<circle cx="40.2" cy="316.7" r="1.80" fill="#34527f" stroke="#24406c" stroke-width="0.6"/>
<circle cx="42.8" cy="319" r="1.80" fill="#34527f" stroke="#24406c" stroke-width="0.6"/>
<circle cx="41.7" cy="318.5" r="1.80" fill="#34527f" stroke="#24406c" stroke-width="0.6"/>
<line x1="37.1" y1="313.8" x2="44.9" y2="313.8" stroke="#363636" stroke-width="1.1"/>
<line x1="53.2" y1="311" x2="53.2" y2="315.5" stroke="#2a2a2a" stroke-width="1.0"/>
<line x1="51.2" y1="311" x2="55.2" y2="311" stroke="#2a2a2a" stroke-width="1.0"/>
<line x1="51.2" y1="315.5" x2="55.2" y2="315.5" stroke="#2a2a2a" stroke-width="1.0"/>
<circle cx="52.6" cy="308.7" r="1.80" fill="#a6273a" stroke="#94112a" stroke-width="0.6"/>
<circle cx="50.3" cy="312.4" r="1.80" fill="#a6273a" stroke="#94112a" stroke-width="0.6"/>
<circle cx="52" cy="314.4" r="1.80" fill="#a6273a" stroke="#94112a" stroke-width="0.6"/>
<circle cx="54.1" cy="315.6" r="1.80" fill="#a6273a" stroke="#94112a" stroke-width="0.6"/>
<circle cx="55.2" cy="316.4" r="1.80" fill="#a6273a" stroke="#94112a" stroke-width="0.6"/>
<line x1="49.300000000000004" y1="313.3" x2="57.1" y2="313.3" stroke="#363636" stroke-width="1.1"/>
<line x1="72.3" y1="286.5" x2="72.3" y2="294.1" stroke="#2a2a2a" stroke-width="1.0"/>
<line x1="70.3" y1="286.5" x2="74.3" y2="286.5" stroke="#2a2a2a" stroke-width="1.0"/>
<line x1="70.3" y1="294.1" x2="74.3" y2="294.1" stroke="#2a2a2a" stroke-width="1.0"/>
<circle cx="72.1" cy="283.7" r="1.80" fill="#34527f" stroke="#24406c" stroke-width="0.6"/>
<circle cx="70.4" cy="289.1" r="1.80" fill="#34527f" stroke="#24406c" stroke-width="0.6"/>
<circle cx="73.3" cy="289.9" r="1.80" fill="#34527f" stroke="#24406c" stroke-width="0.6"/>
<circle cx="72.3" cy="291.3" r="1.80" fill="#34527f" stroke="#24406c" stroke-width="0.6"/>
<circle cx="74.3" cy="292.7" r="1.80" fill="#34527f" stroke="#24406c" stroke-width="0.6"/>
<line x1="68.39999999999999" y1="288.4" x2="76.2" y2="288.4" stroke="#363636" stroke-width="1.1"/>
<line x1="84" y1="315.1" x2="84" y2="343.4" stroke="#2a2a2a" stroke-width="1.0"/>
<line x1="82.0" y1="315.1" x2="86.0" y2="315.1" stroke="#2a2a2a" stroke-width="1.0"/>
<line x1="82.0" y1="343.4" x2="86.0" y2="343.4" stroke="#2a2a2a" stroke-width="1.0"/>
<circle cx="84" cy="312" r="1.80" fill="#a6273a" stroke="#94112a" stroke-width="0.6"/>
<circle cx="81.9" cy="324.1" r="1.80" fill="#a6273a" stroke="#94112a" stroke-width="0.6"/>
<circle cx="83.3" cy="326.3" r="1.80" fill="#a6273a" stroke="#94112a" stroke-width="0.6"/>
<circle cx="85.1" cy="328" r="1.80" fill="#a6273a" stroke="#94112a" stroke-width="0.6"/>
<circle cx="86.1" cy="328.9" r="1.80" fill="#a6273a" stroke="#94112a" stroke-width="0.6"/>
<circle cx="82.6" cy="322" r="1.80" fill="#a6273a" stroke="#94112a" stroke-width="0.6"/>
<line x1="80.1" y1="320.6" x2="87.9" y2="320.6" stroke="#363636" stroke-width="1.1"/>
<line x1="103" y1="271.3" x2="103" y2="280.4" stroke="#2a2a2a" stroke-width="1.0"/>
<line x1="101.0" y1="271.3" x2="105.0" y2="271.3" stroke="#2a2a2a" stroke-width="1.0"/>
<line x1="101.0" y1="280.4" x2="105.0" y2="280.4" stroke="#2a2a2a" stroke-width="1.0"/>
<circle cx="102.9" cy="271.3" r="1.80" fill="#34527f" stroke="#24406c" stroke-width="0.6"/>
<circle cx="101.2" cy="287" r="1.80" fill="#34527f" stroke="#24406c" stroke-width="0.6"/>
<circle cx="105.2" cy="288.3" r="1.80" fill="#34527f" stroke="#24406c" stroke-width="0.6"/>
<circle cx="103.2" cy="293.4" r="1.80" fill="#34527f" stroke="#24406c" stroke-width="0.6"/>
<line x1="99.1" y1="280.4" x2="106.9" y2="280.4" stroke="#363636" stroke-width="1.1"/>
<line x1="115.2" y1="288.3" x2="115.2" y2="306" stroke="#2a2a2a" stroke-width="1.0"/>
<line x1="113.2" y1="288.3" x2="117.2" y2="288.3" stroke="#2a2a2a" stroke-width="1.0"/>
<line x1="113.2" y1="306" x2="117.2" y2="306" stroke="#2a2a2a" stroke-width="1.0"/>
<circle cx="117.2" cy="286" r="1.80" fill="#a6273a" stroke="#94112a" stroke-width="0.6"/>
<circle cx="113.4" cy="290.6" r="1.80" fill="#a6273a" stroke="#94112a" stroke-width="0.6"/>
<circle cx="113.1" cy="293.8" r="1.80" fill="#a6273a" stroke="#94112a" stroke-width="0.6"/>
<circle cx="117.2" cy="294.9" r="1.80" fill="#a6273a" stroke="#94112a" stroke-width="0.6"/>
<circle cx="113.4" cy="305" r="1.80" fill="#a6273a" stroke="#94112a" stroke-width="0.6"/>
<circle cx="117.2" cy="306.7" r="1.80" fill="#a6273a" stroke="#94112a" stroke-width="0.6"/>
<line x1="111.3" y1="292.8" x2="119.10000000000001" y2="292.8" stroke="#363636" stroke-width="1.1"/>
<line x1="68.3" y1="271.3" x2="87.1" y2="271.3" stroke="#363636" stroke-width="1.35"/>
<circle cx="75.83" cy="266" r="1.2" fill="#3a3a3a"/>
<circle cx="79.27" cy="266" r="1.2" fill="#3a3a3a"/>
<line x1="156.9" y1="312.9" x2="156.9" y2="328.4" stroke="#2a2a2a" stroke-width="1.0"/>
<line x1="154.9" y1="312.9" x2="158.9" y2="312.9" stroke="#2a2a2a" stroke-width="1.0"/>
<line x1="154.9" y1="328.4" x2="158.9" y2="328.4" stroke="#2a2a2a" stroke-width="1.0"/>
<circle cx="156.9" cy="307.8" r="1.80" fill="#34527f" stroke="#24406c" stroke-width="0.6"/>
<circle cx="155" cy="320.5" r="1.80" fill="#34527f" stroke="#24406c" stroke-width="0.6"/>
<circle cx="159.5" cy="320.8" r="1.80" fill="#34527f" stroke="#24406c" stroke-width="0.6"/>
<circle cx="154.1" cy="324.8" r="1.80" fill="#34527f" stroke="#24406c" stroke-width="0.6"/>
<circle cx="158.8" cy="329" r="1.80" fill="#34527f" stroke="#24406c" stroke-width="0.6"/>
<circle cx="157.2" cy="320.5" r="1.80" fill="#34527f" stroke="#24406c" stroke-width="0.6"/>
<line x1="153.0" y1="320.5" x2="160.8" y2="320.5" stroke="#363636" stroke-width="1.1"/>
<line x1="168.4" y1="312.5" x2="168.4" y2="329.4" stroke="#2a2a2a" stroke-width="1.0"/>
<line x1="166.4" y1="312.5" x2="170.4" y2="312.5" stroke="#2a2a2a" stroke-width="1.0"/>
<line x1="166.4" y1="329.4" x2="170.4" y2="329.4" stroke="#2a2a2a" stroke-width="1.0"/>
<circle cx="166.1" cy="309.6" r="1.80" fill="#a6273a" stroke="#94112a" stroke-width="0.6"/>
<circle cx="170.7" cy="309.6" r="1.80" fill="#a6273a" stroke="#94112a" stroke-width="0.6"/>
<circle cx="168.4" cy="312.9" r="1.80" fill="#a6273a" stroke="#94112a" stroke-width="0.6"/>
<circle cx="167.4" cy="320.5" r="1.80" fill="#a6273a" stroke="#94112a" stroke-width="0.6"/>
<circle cx="169.4" cy="324.3" r="1.80" fill="#a6273a" stroke="#94112a" stroke-width="0.6"/>
<circle cx="168.4" cy="336.7" r="1.80" fill="#a6273a" stroke="#94112a" stroke-width="0.6"/>
<line x1="164.5" y1="318.9" x2="172.3" y2="318.9" stroke="#363636" stroke-width="1.1"/>
<line x1="188.1" y1="297" x2="188.1" y2="301" stroke="#2a2a2a" stroke-width="1.0"/>
<line x1="186.1" y1="297" x2="190.1" y2="297" stroke="#2a2a2a" stroke-width="1.0"/>
<line x1="186.1" y1="301" x2="190.1" y2="301" stroke="#2a2a2a" stroke-width="1.0"/>
<circle cx="186.9" cy="294.3" r="1.80" fill="#34527f" stroke="#24406c" stroke-width="0.6"/>
<circle cx="188.5" cy="296.3" r="1.80" fill="#34527f" stroke="#24406c" stroke-width="0.6"/>
<circle cx="186" cy="299.4" r="1.80" fill="#34527f" stroke="#24406c" stroke-width="0.6"/>
<circle cx="189" cy="300.1" r="1.80" fill="#34527f" stroke="#24406c" stroke-width="0.6"/>
<circle cx="190.4" cy="301.9" r="1.80" fill="#34527f" stroke="#24406c" stroke-width="0.6"/>
<line x1="184.2" y1="299.1" x2="192.0" y2="299.1" stroke="#363636" stroke-width="1.1"/>
<line x1="200" y1="322" x2="200" y2="345" stroke="#2a2a2a" stroke-width="1.0"/>
<line x1="198.0" y1="322" x2="202.0" y2="322" stroke="#2a2a2a" stroke-width="1.0"/>
<line x1="198.0" y1="345" x2="202.0" y2="345" stroke="#2a2a2a" stroke-width="1.0"/>
<circle cx="199.6" cy="317.2" r="1.80" fill="#a6273a" stroke="#94112a" stroke-width="0.6"/>
<circle cx="197.7" cy="320.5" r="1.80" fill="#a6273a" stroke="#94112a" stroke-width="0.6"/>
<circle cx="201.8" cy="322.3" r="1.80" fill="#a6273a" stroke="#94112a" stroke-width="0.6"/>
<circle cx="199.6" cy="339.6" r="1.80" fill="#a6273a" stroke="#94112a" stroke-width="0.6"/>
<circle cx="197.7" cy="343.4" r="1.80" fill="#a6273a" stroke="#94112a" stroke-width="0.6"/>
<circle cx="201.8" cy="347.1" r="1.80" fill="#a6273a" stroke="#94112a" stroke-width="0.6"/>
<line x1="196.1" y1="331.6" x2="203.9" y2="331.6" stroke="#363636" stroke-width="1.1"/>
<line x1="219" y1="287.5" x2="219" y2="316.5" stroke="#2a2a2a" stroke-width="1.0"/>
<line x1="217.0" y1="287.5" x2="221.0" y2="287.5" stroke="#2a2a2a" stroke-width="1.0"/>
<line x1="217.0" y1="316.5" x2="221.0" y2="316.5" stroke="#2a2a2a" stroke-width="1.0"/>
<circle cx="216.9" cy="290.9" r="1.80" fill="#34527f" stroke="#24406c" stroke-width="0.6"/>
<circle cx="221.1" cy="290.9" r="1.80" fill="#34527f" stroke="#24406c" stroke-width="0.6"/>
<circle cx="219" cy="303.3" r="1.80" fill="#34527f" stroke="#24406c" stroke-width="0.6"/>
<circle cx="219" cy="321.9" r="1.80" fill="#34527f" stroke="#24406c" stroke-width="0.6"/>
<line x1="215.1" y1="302.1" x2="222.9" y2="302.1" stroke="#363636" stroke-width="1.1"/>
<line x1="231.1" y1="291.9" x2="231.1" y2="308" stroke="#2a2a2a" stroke-width="1.0"/>
<line x1="229.1" y1="291.9" x2="233.1" y2="291.9" stroke="#2a2a2a" stroke-width="1.0"/>
<line x1="229.1" y1="308" x2="233.1" y2="308" stroke="#2a2a2a" stroke-width="1.0"/>
<circle cx="231.1" cy="290.6" r="1.80" fill="#a6273a" stroke="#94112a" stroke-width="0.6"/>
<circle cx="231.1" cy="295.3" r="1.80" fill="#a6273a" stroke="#94112a" stroke-width="0.6"/>
<circle cx="229.6" cy="299.5" r="1.80" fill="#a6273a" stroke="#94112a" stroke-width="0.6"/>
<circle cx="233.4" cy="302.9" r="1.80" fill="#a6273a" stroke="#94112a" stroke-width="0.6"/>
<circle cx="231.3" cy="301.2" r="1.80" fill="#a6273a" stroke="#94112a" stroke-width="0.6"/>
<circle cx="231.1" cy="313.1" r="1.80" fill="#a6273a" stroke="#94112a" stroke-width="0.6"/>
<line x1="227.2" y1="300.4" x2="235.0" y2="300.4" stroke="#363636" stroke-width="1.1"/>
<line x1="185.2" y1="285.5" x2="204.3" y2="285.5" stroke="#363636" stroke-width="1.35"/>
<circle cx="191.30" cy="280.8" r="1.2" fill="#3a3a3a"/>
<circle cx="194.75" cy="280.8" r="1.2" fill="#3a3a3a"/>
<circle cx="198.20" cy="280.8" r="1.2" fill="#3a3a3a"/>
<line x1="277.6" y1="336.2" x2="277.6" y2="360" stroke="#2a2a2a" stroke-width="1.0"/>
<line x1="275.6" y1="336.2" x2="279.6" y2="336.2" stroke="#2a2a2a" stroke-width="1.0"/>
<line x1="275.6" y1="360" x2="279.6" y2="360" stroke="#2a2a2a" stroke-width="1.0"/>
<circle cx="277.6" cy="327.3" r="1.80" fill="#34527f" stroke="#24406c" stroke-width="0.6"/>
<circle cx="277.6" cy="348.5" r="1.80" fill="#34527f" stroke="#24406c" stroke-width="0.6"/>
<circle cx="275.7" cy="352.5" r="1.80" fill="#34527f" stroke="#24406c" stroke-width="0.6"/>
<circle cx="279.8" cy="355" r="1.80" fill="#34527f" stroke="#24406c" stroke-width="0.6"/>
<circle cx="277.6" cy="360" r="1.80" fill="#34527f" stroke="#24406c" stroke-width="0.6"/>
<line x1="273.70000000000005" y1="348.8" x2="281.5" y2="348.8" stroke="#363636" stroke-width="1.1"/>
<line x1="289.8" y1="347.9" x2="289.8" y2="358" stroke="#2a2a2a" stroke-width="1.0"/>
<line x1="287.8" y1="347.9" x2="291.8" y2="347.9" stroke="#2a2a2a" stroke-width="1.0"/>
<line x1="287.8" y1="358" x2="291.8" y2="358" stroke="#2a2a2a" stroke-width="1.0"/>
<circle cx="290.4" cy="343.5" r="1.80" fill="#a6273a" stroke="#94112a" stroke-width="0.6"/>
<circle cx="288.4" cy="345.3" r="1.80" fill="#a6273a" stroke="#94112a" stroke-width="0.6"/>
<circle cx="289.8" cy="354.7" r="1.80" fill="#a6273a" stroke="#94112a" stroke-width="0.6"/>
<circle cx="287.4" cy="356.7" r="1.80" fill="#a6273a" stroke="#94112a" stroke-width="0.6"/>
<circle cx="291.2" cy="360.9" r="1.80" fill="#a6273a" stroke="#94112a" stroke-width="0.6"/>
<circle cx="289.8" cy="350.5" r="1.80" fill="#a6273a" stroke="#94112a" stroke-width="0.6"/>
<line x1="285.90000000000003" y1="353.5" x2="293.7" y2="353.5" stroke="#363636" stroke-width="1.1"/>
<line x1="308.9" y1="322.7" x2="308.9" y2="353.9" stroke="#2a2a2a" stroke-width="1.0"/>
<line x1="306.9" y1="322.7" x2="310.9" y2="322.7" stroke="#2a2a2a" stroke-width="1.0"/>
<line x1="306.9" y1="353.9" x2="310.9" y2="353.9" stroke="#2a2a2a" stroke-width="1.0"/>
<circle cx="308.9" cy="319.1" r="1.80" fill="#34527f" stroke="#24406c" stroke-width="0.6"/>
<circle cx="308.9" cy="327.1" r="1.80" fill="#34527f" stroke="#24406c" stroke-width="0.6"/>
<circle cx="308.9" cy="341" r="1.80" fill="#34527f" stroke="#24406c" stroke-width="0.6"/>
<circle cx="308.9" cy="345.8" r="1.80" fill="#34527f" stroke="#24406c" stroke-width="0.6"/>
<circle cx="308.9" cy="359.2" r="1.80" fill="#34527f" stroke="#24406c" stroke-width="0.6"/>
<line x1="305.0" y1="338.4" x2="312.79999999999995" y2="338.4" stroke="#363636" stroke-width="1.1"/>
<line x1="321" y1="318.4" x2="321" y2="357.6" stroke="#2a2a2a" stroke-width="1.0"/>
<line x1="319.0" y1="318.4" x2="323.0" y2="318.4" stroke="#2a2a2a" stroke-width="1.0"/>
<line x1="319.0" y1="357.6" x2="323.0" y2="357.6" stroke="#2a2a2a" stroke-width="1.0"/>
<circle cx="318.7" cy="316.1" r="1.80" fill="#a6273a" stroke="#94112a" stroke-width="0.6"/>
<circle cx="322.8" cy="313.1" r="1.80" fill="#a6273a" stroke="#94112a" stroke-width="0.6"/>
<circle cx="321" cy="337.5" r="1.80" fill="#a6273a" stroke="#94112a" stroke-width="0.6"/>
<circle cx="321" cy="352.1" r="1.80" fill="#a6273a" stroke="#94112a" stroke-width="0.6"/>
<circle cx="318.7" cy="356.5" r="1.80" fill="#a6273a" stroke="#94112a" stroke-width="0.6"/>
<circle cx="323.2" cy="357.1" r="1.80" fill="#a6273a" stroke="#94112a" stroke-width="0.6"/>
<circle cx="321" cy="356.8" r="1.80" fill="#a6273a" stroke="#94112a" stroke-width="0.6"/>
<line x1="317.1" y1="338.4" x2="324.9" y2="338.4" stroke="#363636" stroke-width="1.1"/>
<line x1="340.6" y1="307.7" x2="340.6" y2="357.6" stroke="#2a2a2a" stroke-width="1.0"/>
<line x1="338.6" y1="307.7" x2="342.6" y2="307.7" stroke="#2a2a2a" stroke-width="1.0"/>
<line x1="338.6" y1="357.6" x2="342.6" y2="357.6" stroke="#2a2a2a" stroke-width="1.0"/>
<circle cx="340.6" cy="301.9" r="1.80" fill="#34527f" stroke="#24406c" stroke-width="0.6"/>
<circle cx="340.6" cy="325" r="1.80" fill="#34527f" stroke="#24406c" stroke-width="0.6"/>
<circle cx="340.6" cy="345.8" r="1.80" fill="#34527f" stroke="#24406c" stroke-width="0.6"/>
<circle cx="340.6" cy="357.6" r="1.80" fill="#34527f" stroke="#24406c" stroke-width="0.6"/>
<line x1="336.70000000000005" y1="332.5" x2="344.5" y2="332.5" stroke="#363636" stroke-width="1.1"/>
<line x1="352" y1="286.4" x2="352" y2="337.5" stroke="#2a2a2a" stroke-width="1.0"/>
<line x1="350.0" y1="286.4" x2="354.0" y2="286.4" stroke="#2a2a2a" stroke-width="1.0"/>
<line x1="350.0" y1="337.5" x2="354.0" y2="337.5" stroke="#2a2a2a" stroke-width="1.0"/>
<circle cx="352" cy="266.8" r="1.80" fill="#a6273a" stroke="#94112a" stroke-width="0.6"/>
<circle cx="352" cy="295.6" r="1.80" fill="#a6273a" stroke="#94112a" stroke-width="0.6"/>
<circle cx="352" cy="322.7" r="1.80" fill="#a6273a" stroke="#94112a" stroke-width="0.6"/>
<circle cx="352" cy="327.7" r="1.80" fill="#a6273a" stroke="#94112a" stroke-width="0.6"/>
<circle cx="352" cy="333.9" r="1.80" fill="#a6273a" stroke="#94112a" stroke-width="0.6"/>
<circle cx="352" cy="342.8" r="1.80" fill="#a6273a" stroke="#94112a" stroke-width="0.6"/>
<line x1="348.1" y1="315.2" x2="355.9" y2="315.2" stroke="#363636" stroke-width="1.1"/>
<text x="13.6" y="404" font-size="10.8" text-anchor="start" fill="#2b2b2b" stroke="#2b2b2b" stroke-width="0.2">D</text>
<text x="68.75" y="423.1" font-size="7.78" text-anchor="middle" fill="#2b2b2b" stroke="#2b2b2b" stroke-width="0.2" textLength="21.5" lengthAdjust="spacingAndGlyphs">%GFP</text>
<text x="79.3" y="421.2" font-size="6.8" text-anchor="start" fill="#2b2b2b" stroke="#2b2b2b" stroke-width="0.15">+</text>
<text x="101.0" y="423.1" font-size="7.78" text-anchor="middle" fill="#2b2b2b" stroke="#2b2b2b" stroke-width="0.2" textLength="32.8" lengthAdjust="spacingAndGlyphs">cells in PB</text>
<line x1="33.9" y1="439.4" x2="33.9" y2="544.6" stroke="#363636" stroke-width="1.35"/>
<line x1="30.8" y1="544.3" x2="125.2" y2="544.3" stroke="#363636" stroke-width="1.35"/>
<line x1="30.8" y1="544.3" x2="33.9" y2="544.3" stroke="#363636" stroke-width="1.0"/>
<text x="28.2" y="546.8" font-size="7.78" text-anchor="end" fill="#2b2b2b" stroke="#2b2b2b" stroke-width="0.2">0</text>
<line x1="30.8" y1="518.6999999999999" x2="33.9" y2="518.6999999999999" stroke="#363636" stroke-width="1.0"/>
<text x="28.2" y="521.1999999999999" font-size="7.78" text-anchor="end" fill="#2b2b2b" stroke="#2b2b2b" stroke-width="0.2">25</text>
<line x1="30.8" y1="493.09999999999997" x2="33.9" y2="493.09999999999997" stroke="#363636" stroke-width="1.0"/>
<text x="28.2" y="495.59999999999997" font-size="7.78" text-anchor="end" fill="#2b2b2b" stroke="#2b2b2b" stroke-width="0.2">50</text>
<line x1="30.8" y1="467.49999999999994" x2="33.9" y2="467.49999999999994" stroke="#363636" stroke-width="1.0"/>
<text x="28.2" y="469.99999999999994" font-size="7.78" text-anchor="end" fill="#2b2b2b" stroke="#2b2b2b" stroke-width="0.2">75</text>
<line x1="30.8" y1="441.9" x2="33.9" y2="441.9" stroke="#363636" stroke-width="1.0"/>
<text x="28.2" y="444.4" font-size="7.78" text-anchor="end" fill="#2b2b2b" stroke="#2b2b2b" stroke-width="0.2">100</text>
<line x1="47.2" y1="544" x2="47.2" y2="547.2" stroke="#363636" stroke-width="1.0"/>
<text x="47.2" y="557.2" font-size="7.88" text-anchor="middle" fill="#2b2b2b" stroke="#2b2b2b" stroke-width="0.2" textLength="22.8" lengthAdjust="spacingAndGlyphs">Before</text>
<line x1="79.2" y1="544" x2="79.2" y2="547.2" stroke="#363636" stroke-width="1.0"/>
<text x="79.2" y="557.2" font-size="7.88" text-anchor="middle" fill="#2b2b2b" stroke="#2b2b2b" stroke-width="0.2" textLength="22.8" lengthAdjust="spacingAndGlyphs">Day 24</text>
<line x1="110.3" y1="544" x2="110.3" y2="547.2" stroke="#363636" stroke-width="1.0"/>
<text x="110.3" y="557.2" font-size="7.88" text-anchor="middle" fill="#2b2b2b" stroke="#2b2b2b" stroke-width="0.2" textLength="22.8" lengthAdjust="spacingAndGlyphs">Day 42</text>
<rect x="117.2" y="483" width="7.7" height="7.6" fill="#4a6592" stroke="#3a5582" stroke-width="0.5"/>
<rect x="117.2" y="497.5" width="7.7" height="7.6" fill="#a8374a" stroke="#961c32" stroke-width="0.5"/>
<text x="139.4" y="489.6" font-size="7.78" text-anchor="middle" fill="#2b2b2b" stroke="#2b2b2b" stroke-width="0.2" textLength="23.0" lengthAdjust="spacingAndGlyphs">Vehicle</text>
<text x="136.85" y="503.8" font-size="7.78" text-anchor="middle" fill="#2b2b2b" stroke="#2b2b2b" stroke-width="0.2" textLength="17.9" lengthAdjust="spacingAndGlyphs">5-Aza</text>
<line x1="42" y1="487.3" x2="42" y2="518.4" stroke="#2a2a2a" stroke-width="1.0"/>
<line x1="40.0" y1="487.3" x2="44.0" y2="487.3" stroke="#2a2a2a" stroke-width="1.0"/>
<line x1="40.0" y1="518.4" x2="44.0" y2="518.4" stroke="#2a2a2a" stroke-width="1.0"/>
<circle cx="42" cy="480" r="1.80" fill="#34527f" stroke="#24406c" stroke-width="0.6"/>
<circle cx="42" cy="497.3" r="1.80" fill="#34527f" stroke="#24406c" stroke-width="0.6"/>
<circle cx="39.8" cy="505" r="1.80" fill="#34527f" stroke="#24406c" stroke-width="0.6"/>
<circle cx="44.3" cy="509.8" r="1.80" fill="#34527f" stroke="#24406c" stroke-width="0.6"/>
<circle cx="42" cy="522.2" r="1.80" fill="#34527f" stroke="#24406c" stroke-width="0.6"/>
<line x1="38.1" y1="502.9" x2="45.9" y2="502.9" stroke="#363636" stroke-width="1.1"/>
<line x1="53.8" y1="485.6" x2="53.8" y2="515.3" stroke="#2a2a2a" stroke-width="1.0"/>
<line x1="51.8" y1="485.6" x2="55.8" y2="485.6" stroke="#2a2a2a" stroke-width="1.0"/>
<line x1="51.8" y1="515.3" x2="55.8" y2="515.3" stroke="#2a2a2a" stroke-width="1.0"/>
<circle cx="53.8" cy="483.5" r="1.80" fill="#a6273a" stroke="#94112a" stroke-width="0.6"/>
<circle cx="53.8" cy="487.8" r="1.80" fill="#a6273a" stroke="#94112a" stroke-width="0.6"/>
<circle cx="53.8" cy="496" r="1.80" fill="#a6273a" stroke="#94112a" stroke-width="0.6"/>
<circle cx="53.8" cy="505.5" r="1.80" fill="#a6273a" stroke="#94112a" stroke-width="0.6"/>
<circle cx="53.8" cy="513.6" r="1.80" fill="#a6273a" stroke="#94112a" stroke-width="0.6"/>
<circle cx="53.8" cy="520.2" r="1.80" fill="#a6273a" stroke="#94112a" stroke-width="0.6"/>
<line x1="49.9" y1="501.1" x2="57.699999999999996" y2="501.1" stroke="#363636" stroke-width="1.1"/>
<line x1="72.7" y1="453.5" x2="72.7" y2="457.5" stroke="#2a2a2a" stroke-width="1.0"/>
<line x1="70.7" y1="453.5" x2="74.7" y2="453.5" stroke="#2a2a2a" stroke-width="1.0"/>
<line x1="70.7" y1="457.5" x2="74.7" y2="457.5" stroke="#2a2a2a" stroke-width="1.0"/>
<circle cx="71.9" cy="450" r="1.80" fill="#34527f" stroke="#24406c" stroke-width="0.6"/>
<circle cx="73.8" cy="451.9" r="1.80" fill="#34527f" stroke="#24406c" stroke-width="0.6"/>
<circle cx="71.3" cy="456.2" r="1.80" fill="#34527f" stroke="#24406c" stroke-width="0.6"/>
<circle cx="74.6" cy="458.7" r="1.80" fill="#34527f" stroke="#24406c" stroke-width="0.6"/>
<circle cx="72.7" cy="457.3" r="1.80" fill="#34527f" stroke="#24406c" stroke-width="0.6"/>
<line x1="68.8" y1="455.4" x2="76.60000000000001" y2="455.4" stroke="#363636" stroke-width="1.1"/>
<line x1="84.9" y1="517.1" x2="84.9" y2="537.1" stroke="#2a2a2a" stroke-width="1.0"/>
<line x1="82.9" y1="517.1" x2="86.9" y2="517.1" stroke="#2a2a2a" stroke-width="1.0"/>
<line x1="82.9" y1="537.1" x2="86.9" y2="537.1" stroke="#2a2a2a" stroke-width="1.0"/>
<circle cx="84.9" cy="509.4" r="1.80" fill="#a6273a" stroke="#94112a" stroke-width="0.6"/>
<circle cx="84.9" cy="523.3" r="1.80" fill="#a6273a" stroke="#94112a" stroke-width="0.6"/>
<circle cx="82.7" cy="530.9" r="1.80" fill="#a6273a" stroke="#94112a" stroke-width="0.6"/>
<circle cx="85.3" cy="530.6" r="1.80" fill="#a6273a" stroke="#94112a" stroke-width="0.6"/>
<circle cx="84.4" cy="534.9" r="1.80" fill="#a6273a" stroke="#94112a" stroke-width="0.6"/>
<circle cx="87" cy="535.7" r="1.80" fill="#a6273a" stroke="#94112a" stroke-width="0.6"/>
<line x1="81.0" y1="527.4" x2="88.80000000000001" y2="527.4" stroke="#363636" stroke-width="1.1"/>
<line x1="104.6" y1="443.3" x2="104.6" y2="451.9" stroke="#2a2a2a" stroke-width="1.0"/>
<line x1="102.6" y1="443.3" x2="106.6" y2="443.3" stroke="#2a2a2a" stroke-width="1.0"/>
<line x1="102.6" y1="451.9" x2="106.6" y2="451.9" stroke="#2a2a2a" stroke-width="1.0"/>
<circle cx="102.1" cy="444.2" r="1.80" fill="#34527f" stroke="#24406c" stroke-width="0.6"/>
<circle cx="105.4" cy="444.2" r="1.80" fill="#34527f" stroke="#24406c" stroke-width="0.6"/>
<circle cx="103.1" cy="446.2" r="1.80" fill="#34527f" stroke="#24406c" stroke-width="0.6"/>
<circle cx="106" cy="446.5" r="1.80" fill="#34527f" stroke="#24406c" stroke-width="0.6"/>
<circle cx="104.6" cy="455.4" r="1.80" fill="#34527f" stroke="#24406c" stroke-width="0.6"/>
<line x1="100.69999999999999" y1="448.1" x2="108.5" y2="448.1" stroke="#363636" stroke-width="1.1"/>
<line x1="116.5" y1="453.5" x2="116.5" y2="465.8" stroke="#2a2a2a" stroke-width="1.0"/>
<line x1="114.5" y1="453.5" x2="118.5" y2="453.5" stroke="#2a2a2a" stroke-width="1.0"/>
<line x1="114.5" y1="465.8" x2="118.5" y2="465.8" stroke="#2a2a2a" stroke-width="1.0"/>
<circle cx="113.7" cy="451" r="1.80" fill="#a6273a" stroke="#94112a" stroke-width="0.6"/>
<circle cx="118.5" cy="451" r="1.80" fill="#a6273a" stroke="#94112a" stroke-width="0.6"/>
<circle cx="115.6" cy="452.9" r="1.80" fill="#a6273a" stroke="#94112a" stroke-width="0.6"/>
<circle cx="116.2" cy="461.5" r="1.80" fill="#a6273a" stroke="#94112a" stroke-width="0.6"/>
<circle cx="117.5" cy="463.1" r="1.80" fill="#a6273a" stroke="#94112a" stroke-width="0.6"/>
<circle cx="116.2" cy="470.8" r="1.80" fill="#a6273a" stroke="#94112a" stroke-width="0.6"/>
<line x1="112.6" y1="458.7" x2="120.4" y2="458.7" stroke="#363636" stroke-width="1.1"/>
<line x1="70" y1="438.1" x2="88.7" y2="438.1" stroke="#363636" stroke-width="1.35"/>
<circle cx="74.38" cy="433.3" r="1.2" fill="#3a3a3a"/>
<circle cx="77.83" cy="433.3" r="1.2" fill="#3a3a3a"/>
<circle cx="81.27" cy="433.3" r="1.2" fill="#3a3a3a"/>
<circle cx="84.72" cy="433.3" r="1.2" fill="#3a3a3a"/>
<line x1="100.2" y1="438.1" x2="118.8" y2="438.1" stroke="#363636" stroke-width="1.35"/>
<circle cx="108.80" cy="433.3" r="1.2" fill="#3a3a3a"/>
<text x="163.6" y="404.2" font-size="10.8" text-anchor="start" fill="#2b2b2b" stroke="#2b2b2b" stroke-width="0.2">E</text>
<text x="218.85" y="423.7" font-size="7.78" text-anchor="middle" fill="#2b2b2b" stroke="#2b2b2b" stroke-width="0.2" textLength="45.7" lengthAdjust="spacingAndGlyphs">% Monocytes</text>
<text x="219.05" y="432.9" font-size="7.78" text-anchor="middle" fill="#2b2b2b" stroke="#2b2b2b" stroke-width="0.2" textLength="16.1" lengthAdjust="spacingAndGlyphs">in PB</text>
<line x1="183.8" y1="444.5" x2="183.8" y2="549.7" stroke="#363636" stroke-width="1.35"/>
<line x1="180.6" y1="549.1" x2="254.7" y2="549.1" stroke="#363636" stroke-width="1.35"/>
<line x1="180.6" y1="549.1" x2="183.8" y2="549.1" stroke="#363636" stroke-width="1.0"/>
<text x="178" y="551.6" font-size="7.78" text-anchor="end" fill="#2b2b2b" stroke="#2b2b2b" stroke-width="0.2">0</text>
<line x1="180.6" y1="528.82" x2="183.8" y2="528.82" stroke="#363636" stroke-width="1.0"/>
<text x="178" y="531.32" font-size="7.78" text-anchor="end" fill="#2b2b2b" stroke="#2b2b2b" stroke-width="0.2">20</text>
<line x1="180.6" y1="508.54" x2="183.8" y2="508.54" stroke="#363636" stroke-width="1.0"/>
<text x="178" y="511.04" font-size="7.78" text-anchor="end" fill="#2b2b2b" stroke="#2b2b2b" stroke-width="0.2">40</text>
<line x1="180.6" y1="488.26" x2="183.8" y2="488.26" stroke="#363636" stroke-width="1.0"/>
<text x="178" y="490.76" font-size="7.78" text-anchor="end" fill="#2b2b2b" stroke="#2b2b2b" stroke-width="0.2">60</text>
<line x1="180.6" y1="467.98" x2="183.8" y2="467.98" stroke="#363636" stroke-width="1.0"/>
<text x="178" y="470.48" font-size="7.78" text-anchor="end" fill="#2b2b2b" stroke="#2b2b2b" stroke-width="0.2">80</text>
<line x1="180.6" y1="447.70000000000005" x2="183.8" y2="447.70000000000005" stroke="#363636" stroke-width="1.0"/>
<text x="178" y="450.20000000000005" font-size="7.78" text-anchor="end" fill="#2b2b2b" stroke="#2b2b2b" stroke-width="0.2">100</text>
<line x1="200" y1="549.1" x2="200" y2="552.3" stroke="#363636" stroke-width="1.0"/>
<text x="200.0" y="562.8" font-size="7.88" text-anchor="middle" fill="#2b2b2b" stroke="#2b2b2b" stroke-width="0.2" textLength="23.2" lengthAdjust="spacingAndGlyphs">Day 24</text>
<line x1="237.5" y1="549.1" x2="237.5" y2="552.3" stroke="#363636" stroke-width="1.0"/>
<text x="237.5" y="562.8" font-size="7.88" text-anchor="middle" fill="#2b2b2b" stroke="#2b2b2b" stroke-width="0.2" textLength="23.2" lengthAdjust="spacingAndGlyphs">Day 42</text>
<rect x="256" y="488.2" width="7.9" height="7.7" fill="#4a6592" stroke="#3a5582" stroke-width="0.5"/>
<rect x="256" y="502.1" width="7.9" height="7.7" fill="#a8374a" stroke="#961c32" stroke-width="0.5"/>
<text x="278.35" y="494.4" font-size="7.78" text-anchor="middle" fill="#2b2b2b" stroke="#2b2b2b" stroke-width="0.2" textLength="22.5" lengthAdjust="spacingAndGlyphs">Vehicle</text>
<text x="275.75" y="508.4" font-size="7.78" text-anchor="middle" fill="#2b2b2b" stroke="#2b2b2b" stroke-width="0.2" textLength="17.3" lengthAdjust="spacingAndGlyphs">5-Aza</text>
<line x1="193.2" y1="480.4" x2="193.2" y2="495.6" stroke="#2a2a2a" stroke-width="1.0"/>
<line x1="191.2" y1="480.4" x2="195.2" y2="480.4" stroke="#2a2a2a" stroke-width="1.0"/>
<line x1="191.2" y1="495.6" x2="195.2" y2="495.6" stroke="#2a2a2a" stroke-width="1.0"/>
<circle cx="193.2" cy="480.4" r="1.80" fill="#34527f" stroke="#24406c" stroke-width="0.6"/>
<circle cx="189.7" cy="487.2" r="1.80" fill="#34527f" stroke="#24406c" stroke-width="0.6"/>
<circle cx="193.2" cy="487.2" r="1.80" fill="#34527f" stroke="#24406c" stroke-width="0.6"/>
<circle cx="196.1" cy="487.8" r="1.80" fill="#34527f" stroke="#24406c" stroke-width="0.6"/>
<circle cx="193.2" cy="499.9" r="1.80" fill="#34527f" stroke="#24406c" stroke-width="0.6"/>
<line x1="189.29999999999998" y1="487.2" x2="197.1" y2="487.2" stroke="#363636" stroke-width="1.1"/>
<circle cx="203.9" cy="543.3" r="1.80" fill="#a6273a" stroke="#94112a" stroke-width="0.6"/>
<circle cx="206.9" cy="541.9" r="1.80" fill="#a6273a" stroke="#94112a" stroke-width="0.6"/>
<circle cx="205.3" cy="543.9" r="1.80" fill="#a6273a" stroke="#94112a" stroke-width="0.6"/>
<circle cx="208.4" cy="544.8" r="1.80" fill="#a6273a" stroke="#94112a" stroke-width="0.6"/>
<circle cx="210.4" cy="547.2" r="1.80" fill="#a6273a" stroke="#94112a" stroke-width="0.6"/>
<line x1="207.8" y1="544.3" x2="211.8" y2="544.3" stroke="#363636" stroke-width="1.1"/>
<line x1="230.6" y1="466.7" x2="230.6" y2="493.7" stroke="#2a2a2a" stroke-width="1.0"/>
<line x1="228.6" y1="466.7" x2="232.6" y2="466.7" stroke="#2a2a2a" stroke-width="1.0"/>
<line x1="228.6" y1="493.7" x2="232.6" y2="493.7" stroke="#2a2a2a" stroke-width="1.0"/>
<circle cx="230.3" cy="465.2" r="1.80" fill="#34527f" stroke="#24406c" stroke-width="0.6"/>
<circle cx="230.3" cy="473.6" r="1.80" fill="#34527f" stroke="#24406c" stroke-width="0.6"/>
<circle cx="227.4" cy="490.2" r="1.80" fill="#34527f" stroke="#24406c" stroke-width="0.6"/>
<circle cx="232.7" cy="493.5" r="1.80" fill="#34527f" stroke="#24406c" stroke-width="0.6"/>
<line x1="226.7" y1="480.4" x2="234.5" y2="480.4" stroke="#363636" stroke-width="1.1"/>
<line x1="244.3" y1="477.1" x2="244.3" y2="509.7" stroke="#2a2a2a" stroke-width="1.0"/>
<line x1="242.3" y1="477.1" x2="246.3" y2="477.1" stroke="#2a2a2a" stroke-width="1.0"/>
<line x1="242.3" y1="509.7" x2="246.3" y2="509.7" stroke="#2a2a2a" stroke-width="1.0"/>
<circle cx="244.4" cy="470.6" r="1.80" fill="#a6273a" stroke="#94112a" stroke-width="0.6"/>
<circle cx="244.4" cy="484.7" r="1.80" fill="#a6273a" stroke="#94112a" stroke-width="0.6"/>
<circle cx="242" cy="489.8" r="1.80" fill="#a6273a" stroke="#94112a" stroke-width="0.6"/>
<circle cx="246.9" cy="493.7" r="1.80" fill="#a6273a" stroke="#94112a" stroke-width="0.6"/>
<circle cx="244.4" cy="504.8" r="1.80" fill="#a6273a" stroke="#94112a" stroke-width="0.6"/>
<circle cx="244.4" cy="517.5" r="1.80" fill="#a6273a" stroke="#94112a" stroke-width="0.6"/>
<line x1="240.4" y1="493.5" x2="248.20000000000002" y2="493.5" stroke="#363636" stroke-width="1.1"/>
<line x1="189.7" y1="468.7" x2="208.8" y2="468.7" stroke="#363636" stroke-width="1.35"/>
<circle cx="194.67" cy="463.8" r="1.2" fill="#3a3a3a"/>
<circle cx="198.12" cy="463.8" r="1.2" fill="#3a3a3a"/>
<circle cx="201.57" cy="463.8" r="1.2" fill="#3a3a3a"/>
<circle cx="205.03" cy="463.8" r="1.2" fill="#3a3a3a"/>
<text x="302.6" y="403.8" font-size="10.8" text-anchor="start" fill="#2b2b2b" stroke="#2b2b2b" stroke-width="0.2">F</text>
<text x="373.9" y="423" font-size="7.78" text-anchor="middle" fill="#a8364a" stroke="#a8364a" stroke-width="0.2" textLength="25.6" lengthAdjust="spacingAndGlyphs">5-Aza or</text>
<text x="373.55" y="432.1" font-size="7.78" text-anchor="middle" fill="#a8364a" stroke="#a8364a" stroke-width="0.2" textLength="22.5" lengthAdjust="spacingAndGlyphs">Vehicle</text>
<path d="M363.35,439.1 L366.65,439.1 L365,444.70000000000005 Z" fill="#a6273a"/>
<path d="M368.05,439.1 L371.34999999999997,439.1 L369.7,444.70000000000005 Z" fill="#a6273a"/>
<path d="M372.75,439.1 L376.04999999999995,439.1 L374.4,444.70000000000005 Z" fill="#a6273a"/>
<path d="M377.55,439.1 L380.84999999999997,439.1 L379.2,444.70000000000005 Z" fill="#a6273a"/>
<path d="M382.25,439.1 L385.54999999999995,439.1 L383.9,444.70000000000005 Z" fill="#a6273a"/>
<line x1="331.9" y1="448" x2="331.9" y2="554" stroke="#363636" stroke-width="1.35"/>
<line x1="328.8" y1="553.4" x2="489.6" y2="553.4" stroke="#363636" stroke-width="1.35"/>
<line x1="328.8" y1="553.4" x2="331.9" y2="553.4" stroke="#363636" stroke-width="1.0"/>
<text x="326.6" y="555.9" font-size="7.78" text-anchor="end" fill="#2b2b2b" stroke="#2b2b2b" stroke-width="0.2">0</text>
<line x1="328.8" y1="506.09999999999997" x2="331.9" y2="506.09999999999997" stroke="#363636" stroke-width="1.0"/>
<text x="326.6" y="508.59999999999997" font-size="7.78" text-anchor="end" fill="#2b2b2b" stroke="#2b2b2b" stroke-width="0.2">50</text>
<line x1="328.8" y1="458.79999999999995" x2="331.9" y2="458.79999999999995" stroke="#363636" stroke-width="1.0"/>
<text x="326.6" y="461.29999999999995" font-size="7.78" text-anchor="end" fill="#2b2b2b" stroke="#2b2b2b" stroke-width="0.2">100</text>
<line x1="331.9" y1="553.4" x2="331.9" y2="556.6" stroke="#363636" stroke-width="1.0"/>
<text x="331.9" y="566" font-size="7.78" text-anchor="middle" fill="#2b2b2b" stroke="#2b2b2b" stroke-width="0.2">0</text>
<line x1="354.0" y1="553.4" x2="354.0" y2="556.6" stroke="#363636" stroke-width="1.0"/>
<text x="354.0" y="566" font-size="7.78" text-anchor="middle" fill="#2b2b2b" stroke="#2b2b2b" stroke-width="0.2">10</text>
<line x1="376.09999999999997" y1="553.4" x2="376.09999999999997" y2="556.6" stroke="#363636" stroke-width="1.0"/>
<text x="376.09999999999997" y="566" font-size="7.78" text-anchor="middle" fill="#2b2b2b" stroke="#2b2b2b" stroke-width="0.2">20</text>
<line x1="398.2" y1="553.4" x2="398.2" y2="556.6" stroke="#363636" stroke-width="1.0"/>
<text x="398.2" y="566" font-size="7.78" text-anchor="middle" fill="#2b2b2b" stroke="#2b2b2b" stroke-width="0.2">30</text>
<line x1="420.29999999999995" y1="553.4" x2="420.29999999999995" y2="556.6" stroke="#363636" stroke-width="1.0"/>
<text x="420.29999999999995" y="566" font-size="7.78" text-anchor="middle" fill="#2b2b2b" stroke="#2b2b2b" stroke-width="0.2">40</text>
<line x1="442.4" y1="553.4" x2="442.4" y2="556.6" stroke="#363636" stroke-width="1.0"/>
<text x="442.4" y="566" font-size="7.78" text-anchor="middle" fill="#2b2b2b" stroke="#2b2b2b" stroke-width="0.2">50</text>
<line x1="464.5" y1="553.4" x2="464.5" y2="556.6" stroke="#363636" stroke-width="1.0"/>
<text x="464.5" y="566" font-size="7.78" text-anchor="middle" fill="#2b2b2b" stroke="#2b2b2b" stroke-width="0.2">60</text>
<line x1="486.59999999999997" y1="553.4" x2="486.59999999999997" y2="556.6" stroke="#363636" stroke-width="1.0"/>
<text x="486.59999999999997" y="566" font-size="7.78" text-anchor="middle" fill="#2b2b2b" stroke="#2b2b2b" stroke-width="0.2">70</text>
<text x="411.3" y="579.8" font-size="9.29" text-anchor="middle" fill="#2b2b2b" stroke="#2b2b2b" stroke-width="0.2" textLength="47.0" lengthAdjust="spacingAndGlyphs">Time (days)</text>
<text transform="translate(309.7,500.5) rotate(-90)" x="0" y="0" font-size="9.3" text-anchor="middle" fill="#2b2b2b" stroke="#2b2b2b" stroke-width="0.2" textLength="47.6" lengthAdjust="spacingAndGlyphs">Survival (%)</text>
<line x1="362.84" y1="455.3" x2="362.84" y2="550.5" stroke="#333" stroke-width="0.9" stroke-dasharray="1.1,1.6"/>
<line x1="384.94" y1="455.3" x2="384.94" y2="550.5" stroke="#333" stroke-width="0.9" stroke-dasharray="1.1,1.6"/>
<line x1="424.71999999999997" y1="455.3" x2="424.71999999999997" y2="550.5" stroke="#333" stroke-width="0.9" stroke-dasharray="1.1,1.6"/>
<text x="363.35" y="453.1" font-size="7.78" text-anchor="middle" fill="#2b2b2b" stroke="#2b2b2b" stroke-width="0.2" textLength="19.7" lengthAdjust="spacingAndGlyphs">Before</text>
<text x="390.75" y="452.9" font-size="7.78" text-anchor="middle" fill="#2b2b2b" stroke="#2b2b2b" stroke-width="0.2" textLength="21.3" lengthAdjust="spacingAndGlyphs">Day 24</text>
<text x="429.65" y="452.9" font-size="7.78" text-anchor="middle" fill="#2b2b2b" stroke="#2b2b2b" stroke-width="0.2" textLength="21.3" lengthAdjust="spacingAndGlyphs">Day 42</text>
<path d="M331.9,458.2 L486.6,458.2" stroke="#a6273a" stroke-width="1.4" fill="none"/>
<path d="M331.9,460.4 L400.40999999999997,460.4 L400.40999999999997,478.5 L435.8,478.5 L435.8,497 L442,497 L442,515.9 L446.9,515.9 L446.9,535 L486.6,535" stroke="#34527f" stroke-width="1.4" fill="none"/>
<circle cx="458.35" cy="495.1" r="1.0" fill="#555"/>
<circle cx="461.35" cy="495.1" r="1.0" fill="#555"/>
<line x1="472.7" y1="495.3" x2="483.1" y2="495.3" stroke="#34527f" stroke-width="1.4"/>
<text x="498.15" y="498.1" font-size="7.78" text-anchor="middle" fill="#2b2b2b" stroke="#2b2b2b" stroke-width="0.2" textLength="23.1" lengthAdjust="spacingAndGlyphs">Vehicle</text>
<line x1="472.7" y1="508" x2="483.1" y2="508" stroke="#a6273a" stroke-width="1.4"/>
<text x="495.5" y="510.8" font-size="7.78" text-anchor="middle" fill="#2b2b2b" stroke="#2b2b2b" stroke-width="0.2" textLength="17.8" lengthAdjust="spacingAndGlyphs">5-Aza</text>
<g shape-rendering="crispEdges">
<rect x="1" y="1" width="1" height="587" fill="#999"/>
<rect x="1" y="1" width="518" height="1" fill="#a8a8a8"/>
<rect x="1" y="587" width="518" height="1" fill="#9c9c9c"/>
<rect x="518" y="1" width="1" height="587" fill="#d8d8d8"/>
<rect x="0" y="0" width="520" height="1" fill="#4a4a4a"/>
<rect x="0" y="0" width="1" height="589" fill="#474747"/>
<rect x="0" y="588" width="520" height="1" fill="#474747"/>
<rect x="519" y="0" width="1" height="589" fill="#080808"/>
</g>
</g>
</svg>
</div></body></html>
